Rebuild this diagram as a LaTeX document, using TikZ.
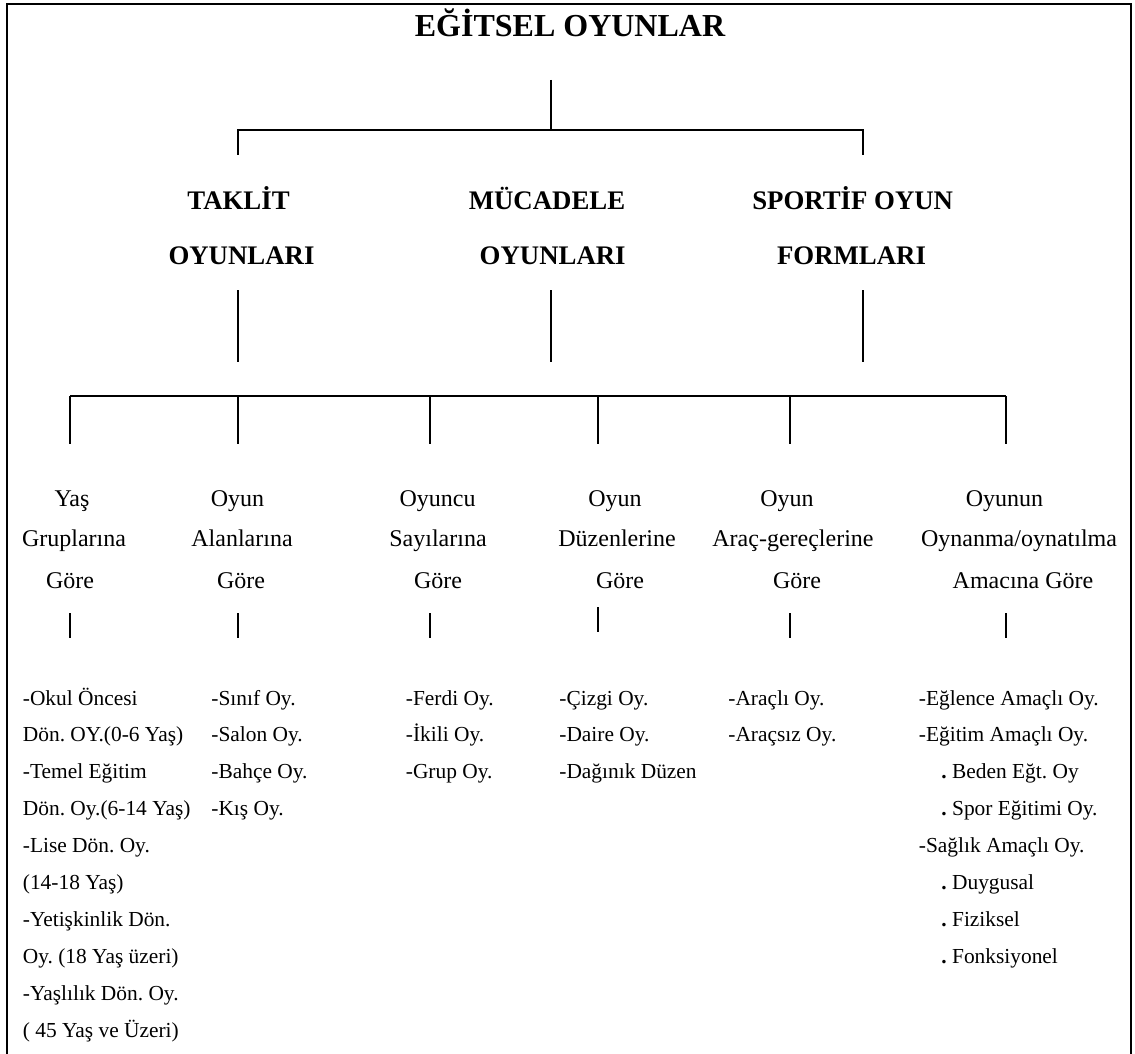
\documentclass[tikz,border=0pt]{standalone}
\usepackage{fontspec}
\setmainfont{Liberation Serif}
\usetikzlibrary{positioning}
\frenchspacing

\tikzset{
  tree/.style={line width=0.65pt},
  frame/.style={line width=1pt},
  baslik/.style={font=\fontsize{16}{19}\selectfont\bfseries,anchor=base,inner sep=0pt},
  grup/.style={font=\fontsize{13.4}{16}\selectfont\bfseries,anchor=base,inner sep=0pt},
  ölçüt/.style={font=\fontsize{12}{14}\selectfont,anchor=base,inner sep=0pt},
  madde/.style={font=\fontsize{10.7}{13}\selectfont,anchor=base west,inner sep=0pt},
}

\begin{document}
\begin{tikzpicture}[x=0.5pt,y=-0.5pt,line cap=butt]
  \useasboundingbox (0,0) rectangle (1135,1054);
  % çerçeve
  \draw[frame] (7,1056) -- (7,4) -- (1131,4) -- (1131,1056);
  % başlık
  \node[baslik] (kok) at (570,37) {EĞİTSEL OYUNLAR};
  \coordinate (k0) at (551,80);
  \coordinate (k1) at (551,130);
  \draw[tree] (k0) -- (k1);
  \draw[tree] (238,155) |- (k1) -| (863,155);
  % ana gruplar
  \node[grup] (taklit) at (238.5,209) {TAKLİT};
  \node[grup] (taklit2) at (241.5,264) {OYUNLARI};
  \node[grup] (mucadele) at (547,209) {MÜCADELE};
  \node[grup] (mucadele2) at (552.7,264) {OYUNLARI};
  \node[grup] (sportif) at (852.7,209) {SPORTİF OYUN};
  \node[grup] (sportif2) at (851.5,264) {FORMLARI};
  \foreach \x in {238,551,863}{
    \draw[tree] (\x,290) -- (\x,362);
  }
  % sınıflama çubuğu
  \foreach \x [count=\i] in {70,238,430,598,790,1006}{
    \coordinate (d\i) at (\x,396);
    \draw[tree] (d\i) -- ++(0,48);
  }
  \draw[tree] (d1) -- (d6);
  % ölçütler
  \foreach \xa/\xb/\xc/\a/\b/\c [count=\i] in {
      72/74/70/Yaş/Gruplarına/Göre,
      237.5/242/241/Oyun/Alanlarına/Göre,
      437.6/438/438/Oyuncu/Sayılarına/Göre,
      615/617/620/Oyun/Düzenlerine/Göre,
      787/793/797/Oyun/Araç-gereçlerine/Göre,
      1004.5/1019/1023/Oyunun/{Oynanma/oynatılma}/Amacına Göre}{
    \node[ölçüt] (o\i a) at (\xa,506) {\a};
    \node[ölçüt] (o\i b) at (\xb,546) {\b};
    \node[ölçüt] (o\i c) at (\xc,588) {\c};
  }
  \foreach \x/\y [count=\i] in {70/613,238/613,430/613,598/607,790/613,1006/613}{
    \draw[tree] (\x,\y) -- ++(0,25);
  }
  % alt maddeler
  \foreach \t [count=\i] in {-Okul Öncesi, Dön. OY.(0-6 Yaş), -Temel Eğitim,
      Dön. Oy.(6-14 Yaş), -Lise Dön. Oy., (14-18 Yaş), -Yetişkinlik Dön.,
      Oy. (18 Yaş üzeri), -Yaşlılık Dön. Oy., ( 45 Yaş ve Üzeri)}{
    \node[madde] (a\i) at (22.5,{705+(\i-1)*36.9}) {\t};
  }
  \foreach \t [count=\i] in {-Sınıf Oy., -Salon Oy., -Bahçe Oy., -Kış Oy.}{
    \node[madde] (b\i) at (211,{705+(\i-1)*36.9}) {\t};
  }
  \foreach \t [count=\i] in {-Ferdi Oy., -İkili Oy., -Grup Oy.}{
    \node[madde] (c\i) at (405.5,{705+(\i-1)*36.9}) {\t};
  }
  \foreach \t [count=\i] in {-Çizgi Oy., -Daire Oy., -Dağınık Düzen}{
    \node[madde] (e\i) at (559,{705+(\i-1)*36.9}) {\t};
  }
  \foreach \t [count=\i] in {-Araçlı Oy., -Araçsız Oy.}{
    \node[madde] (f\i) at (728,{705+(\i-1)*36.9}) {\t};
  }
  \foreach \x/\t [count=\i] in {918.5/-Eğlence Amaçlı Oy., 918.5/-Eğitim Amaçlı Oy.,
      941/\textbf{.} Beden Eğt. Oy, 941/\textbf{.} Spor Eğitimi Oy.,
      918.5/-Sağlık Amaçlı Oy., 941/\textbf{.} Duygusal,
      941/\textbf{.} Fiziksel, 941/\textbf{.} Fonksiyonel}{
    \node[madde] (g\i) at (\x,{705+(\i-1)*36.9}) {\t};
  }
\end{tikzpicture}
\end{document}
